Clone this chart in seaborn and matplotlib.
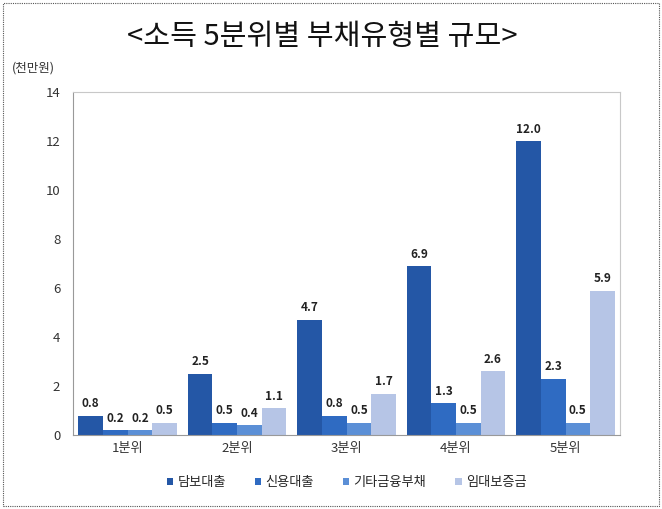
import matplotlib
matplotlib.use("Agg")
import matplotlib.pyplot as plt
import seaborn as sns
import pandas as pd
from matplotlib.patches import Rectangle

categories = ["1분위", "2분위", "3분위", "4분위", "5분위"]
series_names = ["담보대출", "신용대출", "기타금융부채", "임대보증금"]
mortgage = [0.8, 2.5, 4.7, 6.9, 12.0]
credit = [0.2, 0.5, 0.8, 1.3, 2.3]
other = [0.2, 0.4, 0.5, 0.5, 0.5]
deposit = [0.5, 1.1, 1.7, 2.6, 5.9]
yticks = [0, 2, 4, 6, 8, 10, 12, 14]

colors = ["#2457a6", "#2f6bc2", "#5b8fd6", "#b6c5e6"]

rows = []
for name, vals in zip(series_names, [mortgage, credit, other, deposit]):
    for c, v in zip(categories, vals):
        rows.append({"분위": c, "유형": name, "값": v})
df = pd.DataFrame(rows)

sns.set_theme(style="white")
plt.rcParams['font.family'] = ['Noto Sans CJK KR', 'DejaVu Sans']

fig = plt.figure(figsize=(6.62, 5.09), dpi=100)
ax = fig.add_axes([0.110, 0.145, 0.827, 0.674])

sns.barplot(data=df, x="분위", y="값", hue="유형", palette=colors,
            width=0.9, ax=ax, edgecolor="none", saturation=1)

for cont in ax.containers:
    ax.bar_label(cont, fmt="%.1f", padding=4, fontsize=8.5, fontweight="bold", color="#222222")

ax.set_ylim(0, 14)
ax.set_yticks(yticks)
ax.set_xlabel("")
ax.set_ylabel("")
ax.tick_params(axis="both", labelsize=9.5, colors="#333333", length=0)
ax.tick_params(axis="x", pad=5)
ax.tick_params(axis="y", length=3, direction="out", color="#999999", pad=6)
for s in ax.spines.values():
    s.set_color("#c8c8c8")
    s.set_linewidth(0.8)
ax.spines["left"].set_color("#999999")
ax.spines["bottom"].set_color("#999999")

leg = ax.legend(loc="upper center", bbox_to_anchor=(0.5, -0.085), ncol=4, frameon=False,
                fontsize=9.5, handlelength=0.5, handleheight=0.5, handletextpad=0.3,
                columnspacing=2.2)

fig.text(0.487, 0.927, "<소득 5분위별 부채유형별 규모>", ha="center", va="center",
         fontsize=21, color="#111111")
fig.text(0.018, 0.866, "(천만원)", ha="left", va="center", fontsize=9, color="#333333")

fig.patches.append(Rectangle((0.004, 0.006), 0.992, 0.988, transform=fig.transFigure,
                             fill=False, linestyle=(0, (1, 1)), linewidth=0.8,
                             edgecolor="#555555"))

fig.savefig("out.png", dpi=100)
